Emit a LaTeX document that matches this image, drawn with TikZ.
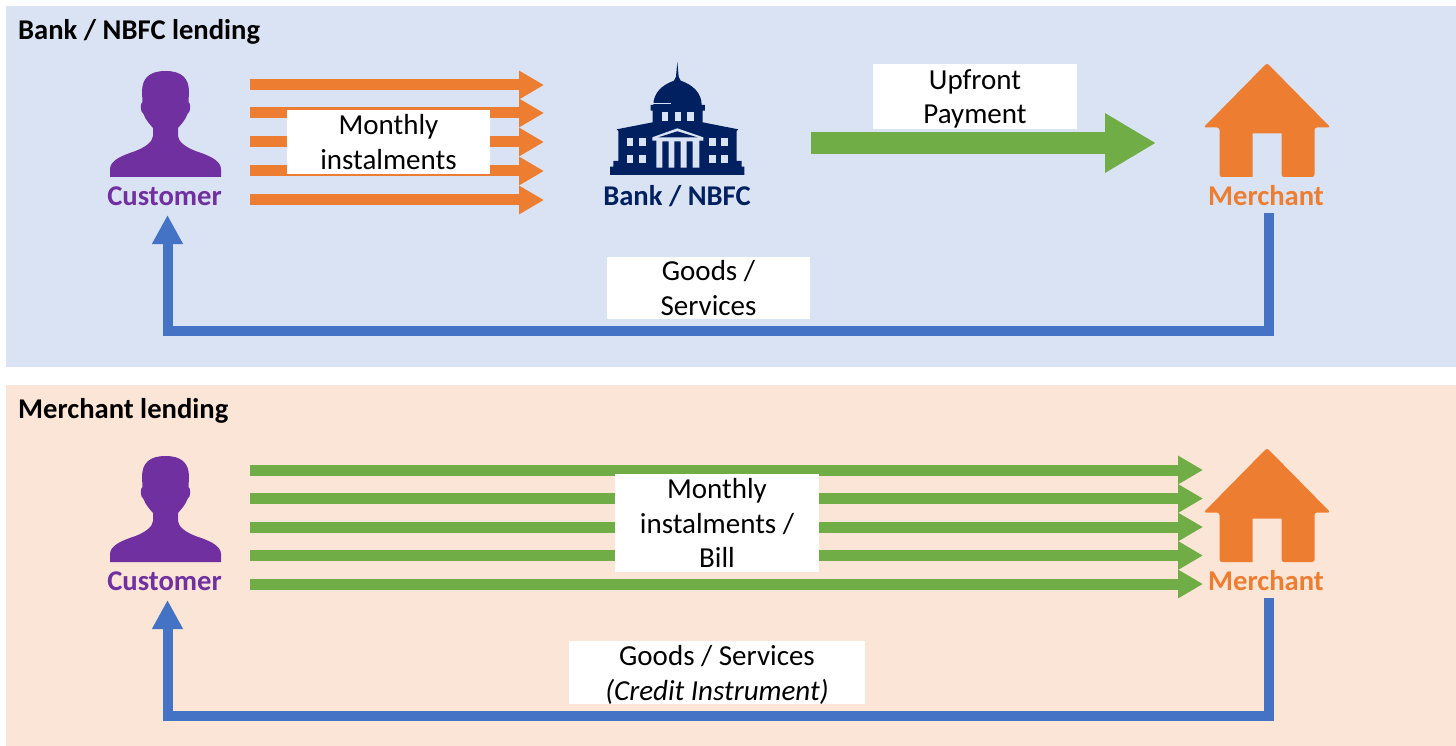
\documentclass[tikz,border=0pt]{standalone}
\usepackage{fontspec}
\setmainfont{Carlito}
\usetikzlibrary{arrows.meta}
\definecolor{panelblue}{HTML}{DAE3F3}
\definecolor{panelpeach}{HTML}{FBE5D6}
\definecolor{cOrange}{HTML}{ED7D31}
\definecolor{cGreen}{HTML}{70AD47}
\definecolor{cBlue}{HTML}{4472C4}
\definecolor{cPurple}{HTML}{7030A0}
\definecolor{cNavy}{HTML}{002060}
\tikzset{
  panelbox/.style={fill=#1,draw=none},
  titletext/.style={anchor=west,inner sep=0pt,font=\fontsize{28.6}{30}\selectfont\bfseries},
  actorname/.style={inner sep=0pt,font=\fontsize{28.6}{30}\selectfont\bfseries,text=#1},
  labelbox/.style={fill=white,inner sep=0pt,align=center,font=\fontsize{29}{34.5}\selectfont,text=black},
  thinarrow/.style={draw=#1,line width=11pt,-{Triangle[length=25pt,width=27pt,#1]}},
  bigarrow/.style={draw=#1,line width=22pt,-{Triangle[length=51pt,width=56pt,#1]}},
  looparrow/.style={draw=cBlue,line width=10pt,miter limit=10,-{Triangle[length=29pt,width=29pt,cBlue]}},
  person/.pic={
    \fill[cPurple] (0,71) .. controls (16,71) and (23.5,78) .. (23.5,92) -- (23,102)
      .. controls (25.5,103) and (25.5,112) .. (22,114)
      .. controls (20,120) and (15,125) .. (12.5,128) -- (12.5,136)
      .. controls (13,142) and (20,147) .. (30,151)
      .. controls (42,155) and (55.5,160) .. (55.5,169) -- (55.5,177) -- (-55.5,177) -- (-55.5,169)
      .. controls (-55.5,160) and (-42,155) .. (-30,151)
      .. controls (-20,147) and (-13,142) .. (-12.5,136) -- (-12.5,128)
      .. controls (-15,125) and (-20,120) .. (-22,114)
      .. controls (-25.5,112) and (-25.5,103) .. (-23,102) -- (-23.5,92)
      .. controls (-23.5,78) and (-16,71) .. (0,71) -- cycle;
  },
  house/.pic={
    \fill[cOrange,rounded corners=2.5pt] (0,63) -- (63.5,127.5) -- (47.5,127.5) -- (47.5,177) -- (14.5,177)
      [sharp corners] -- (14.5,133.5) -- (-14.5,133.5) -- (-14.5,177) [rounded corners=2.5pt] -- (-47.5,177)
      -- (-47.5,127.5) -- (-63.5,127.5) -- cycle;
  },
}
\begin{document}
\begin{tikzpicture}[x=1pt,y=-1pt]
\useasboundingbox (0,0) rectangle (1456,746);
\fill[white] (0,0) rectangle (1456,746);

% panels
\path[panelbox=panelblue] (6,6) rectangle (1456,367);
\path[panelbox=panelpeach] (6,385) rectangle (1456,746);
\node[titletext] (title1) at (18,31.5) {Bank / NBFC lending};
\node[titletext] (title2) at (18,410.5) {Merchant lending};

% icons
\pic at (165.5,0) {person};
\pic at (165.5,385) {person};
\pic at (1267,0) {house};
\pic at (1267,385) {house};

% bank icon, drawn in the 3x grid of its crop
\begin{scope}[shift={(590,50)},x=.3333pt,y=-.3333pt]
  \fill[cNavy] (262,35) -- (266,80) -- (272,92) .. controls (310,105) and (335,130) .. (335,165)
    -- (345,165) -- (345,182) -- (338,182) -- (338,217) -- (445,238) -- (440,243) -- (440,333) -- (455,333) -- (455,350)
    -- (463,350) -- (463,375) -- (60,375) -- (60,350) -- (70,350) -- (70,333) -- (85,333) -- (85,243) -- (80,238)
    -- (188,217) -- (188,182) -- (182,182) -- (182,165) -- (190,165) .. controls (190,130) and (215,105) .. (252,92)
    -- (258,80) -- cycle;
  \begin{scope}[panelblue]
    \fill (190,159) rectangle (243,163);
    \foreach \wx in {215,254,292} \fill (\wx,187) rectangle +(19,25);
    \foreach \wx in {110,148,357,394} {
      \fill (\wx,264) rectangle +(20,25);
      \fill (\wx,314) rectangle +(20,25);
    }
    \fill (187,262) -- (262,235) -- (340,262) -- (340,272) -- (328,272) -- (328,353) -- (308,353) -- (308,274)
      -- (290,274) -- (290,353) -- (272,353) -- (272,274) -- (253,274) -- (253,353) -- (236,353) -- (236,274)
      -- (217,274) -- (217,353) -- (199,353) -- (199,272) -- (187,272) -- cycle;
    \fill[cNavy] (205,262) -- (262,244) -- (322,262) -- cycle;
  \end{scope}
\end{scope}

% actor names
\node[actorname=cPurple] (cust1) at (164.5,196) {Customer};
\node[actorname=cNavy] (bank) at (677,196) {Bank / NBFC};
\node[actorname=cOrange] (merch1) at (1266,196) {Merchant};
\node[actorname=cPurple] (cust2) at (164.5,581) {Customer};
\node[actorname=cOrange] (merch2) at (1266,581) {Merchant};

% upper panel arrows
\foreach \n/\yy in {a/85,b/113,c/142,d/171,e/200} {
  \coordinate (os\n) at (250,\yy);
  \coordinate (oe\n) at (544,\yy);
  \draw[thinarrow=cOrange] (os\n) -- (oe\n);
}
\node[labelbox,minimum width=203pt,minimum height=64pt] (lab1) at (388.5,142) {Monthly\\instalments};

\coordinate (gs) at (811,143);
\coordinate (ge) at (1156,143);
\draw[bigarrow=cGreen] (gs) -- (ge);
\node[labelbox,minimum width=204pt,minimum height=63pt] (lab2) at (975,96.5) {\rule{0pt}{25pt}Upfront\\Payment};

\coordinate (mf1) at (1268.5,213);
\coordinate (mc1) at (1268.5,331);
\coordinate (cc1) at (167.5,331);
\coordinate (cf1) at (167.5,215);
\draw[looparrow] (mf1) -- (mc1) -- (cc1) -- (cf1);
\node[labelbox,minimum width=203pt,minimum height=62pt] (lab3) at (708.5,288) {Goods /\\Services};

% lower panel arrows
\foreach \n/\yy in {a/470,b/498.5,c/527,d/555.5,e/584} {
  \coordinate (ls\n) at (250,\yy);
  \coordinate (le\n) at (1203,\yy);
  \draw[thinarrow=cGreen] (ls\n) -- (le\n);
}
\node[labelbox,minimum width=204pt,minimum height=98pt] (lab4) at (717,523) {Monthly\\instalments /\\Bill};

\coordinate (mf2) at (1268.5,598);
\coordinate (mc2) at (1268.5,716);
\coordinate (cc2) at (167.5,716);
\coordinate (cf2) at (167.5,600);
\draw[looparrow] (mf2) -- (mc2) -- (cc2) -- (cf2);
\node[labelbox,minimum width=296pt,minimum height=63pt] (lab5) at (717,672.5) {\rule{0pt}{25pt}Goods / Services\\\textit{(Credit Instrument)}};
\end{tikzpicture}
\end{document}
